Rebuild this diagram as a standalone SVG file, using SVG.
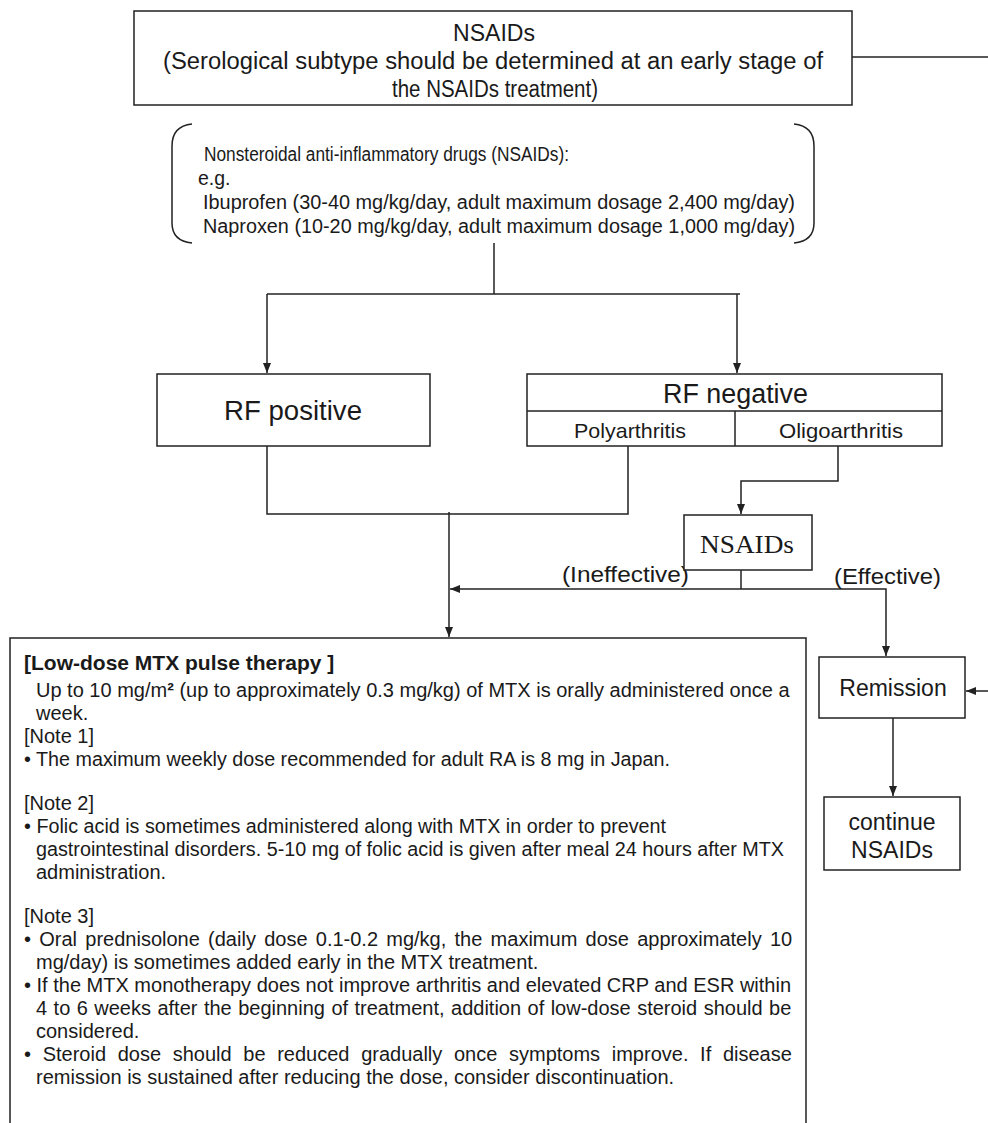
<svg xmlns="http://www.w3.org/2000/svg" width="988" height="1123" viewBox="0 0 988 1123">
<style>
.box{fill:#fff;stroke:#222;stroke-width:1.5}
.ln{fill:none;stroke:#222;stroke-width:1.5}
.t{font-family:"Liberation Sans",Arial,sans-serif;fill:#1a1a1a}
.s{font-family:"Liberation Serif","Times New Roman",serif;fill:#1a1a1a}
.b{font-size:20px}
</style>
<defs>
<marker id="ah" viewBox="0 0 10 10" refX="10" refY="5" markerWidth="10" markerHeight="10" markerUnits="userSpaceOnUse" orient="auto">
<path d="M0,1 L10,5 L0,9 Z" fill="#222"/>
</marker>
</defs>
<rect width="988" height="1123" fill="#fff"/>

<g id="connectors">
<line class="ln" x1="852" y1="57" x2="988" y2="57"/>
<line class="ln" x1="494" y1="243" x2="494" y2="294"/>
<line class="ln" x1="267" y1="294" x2="740" y2="294"/>
<line class="ln" x1="267" y1="294" x2="267" y2="373" marker-end="url(#ah)"/>
<line class="ln" x1="737" y1="294" x2="737" y2="373" marker-end="url(#ah)"/>
<polyline class="ln" points="267,446 267,514 628,514 628,446"/>
<line class="ln" x1="449" y1="512" x2="449" y2="637" marker-end="url(#ah)"/>
<polyline class="ln" points="838,446 838,481 741,481 741,514" marker-end="url(#ah)"/>
<line class="ln" x1="741" y1="570" x2="741" y2="589"/>
<line class="ln" x1="741" y1="589" x2="450" y2="589" marker-end="url(#ah)"/>
<polyline class="ln" points="741,589 886,589 886,656" marker-end="url(#ah)"/>
<line class="ln" x1="988" y1="691" x2="966" y2="691" marker-end="url(#ah)"/>
<line class="ln" x1="893" y1="718" x2="893" y2="796" marker-end="url(#ah)"/>
<text class="t" x="562" y="582" font-size="22" textLength="127" lengthAdjust="spacingAndGlyphs">(Ineffective)</text>
<text class="t" x="834" y="584" font-size="22" textLength="107" lengthAdjust="spacingAndGlyphs">(Effective)</text>
</g>

<g id="n-top">
<rect class="box" x="134" y="11" width="718" height="94"/>
<text class="t" x="494" y="41" font-size="23" text-anchor="middle" textLength="82" lengthAdjust="spacingAndGlyphs">NSAIDs</text>
<text class="t" x="163" y="69" font-size="23" textLength="660" lengthAdjust="spacingAndGlyphs">(Serological subtype should be determined at an early stage of</text>
<text class="t" x="392" y="97" font-size="23" textLength="206" lengthAdjust="spacingAndGlyphs">the NSAIDs treatment)</text>
</g>

<g id="n-examples">
<path class="ln" d="M192,124 Q172,126 172,146 L172,223 Q172,241 192,243"/>
<path class="ln" d="M794,124 Q814,126 814,146 L814,223 Q814,241 794,243"/>
<text class="t" x="204" y="161" font-size="19.5" textLength="365" lengthAdjust="spacingAndGlyphs">Nonsteroidal anti-inflammatory drugs (NSAIDs):</text>
<text class="t" x="198" y="185" font-size="19.5">e.g.</text>
<text class="t" x="203" y="209" font-size="19.5" textLength="592" lengthAdjust="spacingAndGlyphs">Ibuprofen (30-40 mg/kg/day, adult maximum dosage 2,400 mg/day)</text>
<text class="t" x="203" y="233" font-size="19.5" textLength="592" lengthAdjust="spacingAndGlyphs">Naproxen (10-20 mg/kg/day, adult maximum dosage 1,000 mg/day)</text>
</g>

<g id="n-rfpos">
<rect class="box" x="157" y="374" width="273" height="72"/>
<text class="t" x="224" y="420" font-size="27" textLength="138" lengthAdjust="spacingAndGlyphs">RF positive</text>
</g>

<g id="n-rfneg">
<rect class="box" x="527" y="374" width="415" height="72"/>
<line class="ln" x1="527" y1="411" x2="942" y2="411"/>
<line class="ln" x1="735" y1="411" x2="735" y2="446"/>
<text class="t" x="663" y="403" font-size="27" textLength="145" lengthAdjust="spacingAndGlyphs">RF negative</text>
<text class="t" x="574" y="438" font-size="21" textLength="112" lengthAdjust="spacingAndGlyphs">Polyarthritis</text>
<text class="t" x="779" y="438" font-size="21" textLength="124" lengthAdjust="spacingAndGlyphs">Oligoarthritis</text>
</g>

<g id="n-nsaids2">
<rect class="box" x="684" y="515" width="128" height="55"/>
<text class="s" x="747" y="553" font-size="26" text-anchor="middle" textLength="94" lengthAdjust="spacingAndGlyphs">NSAIDs</text>
</g>

<g id="n-mtx">
<rect class="box" x="10" y="638" width="796" height="500"/>
<text class="t" x="24" y="670" font-size="21" font-weight="bold">[Low-dose MTX pulse therapy ]</text>
<text class="t b" x="36" y="697">Up to 10 mg/m<tspan font-weight="bold">²</tspan> (up to approximately 0.3 mg/kg) of MTX is orally administered once a</text>
<text class="t b" x="36" y="720">week.</text>
<text class="t b" x="24" y="743">[Note 1]</text>
<text class="t b" x="24" y="766" textLength="646" lengthAdjust="spacingAndGlyphs">• The maximum weekly dose recommended for adult RA is 8 mg in Japan.</text>
<text class="t b" x="24" y="810">[Note 2]</text>
<text class="t b" x="24" y="833" textLength="642" lengthAdjust="spacingAndGlyphs">• Folic acid is sometimes administered along with MTX in order to prevent</text>
<text class="t b" x="36" y="856" textLength="748" lengthAdjust="spacingAndGlyphs">gastrointestinal disorders. 5-10 mg of folic acid is given after meal 24 hours after MTX</text>
<text class="t b" x="36" y="879">administration.</text>
<text class="t b" x="24" y="923">[Note 3]</text>
<text class="t b" x="24" y="946" word-spacing="2.7">• Oral prednisolone (daily dose 0.1-0.2 mg/kg, the maximum dose approximately 10</text>
<text class="t b" x="36" y="969">mg/day) is sometimes added early in the MTX treatment.</text>
<text class="t b" x="24" y="992">• If the MTX monotherapy does not improve arthritis and elevated CRP and ESR within</text>
<text class="t b" x="36" y="1015" word-spacing="0.9">4 to 6 weeks after the beginning of treatment, addition of low-dose steroid should be</text>
<text class="t b" x="36" y="1038">considered.</text>
<text class="t b" x="24" y="1061" word-spacing="6.1">• Steroid dose should be reduced gradually once symptoms improve. If disease</text>
<text class="t b" x="36" y="1084">remission is sustained after reducing the dose, consider discontinuation.</text>
</g>

<g id="n-remission">
<rect class="box" x="819" y="657" width="146" height="61"/>
<text class="t" x="893" y="696" font-size="23" text-anchor="middle">Remission</text>
</g>

<g id="n-continue">
<rect class="box" x="824" y="797" width="136" height="73"/>
<text class="t" x="892" y="830" font-size="23" text-anchor="middle">continue</text>
<text class="t" x="892" y="858" font-size="23" text-anchor="middle">NSAIDs</text>
</g>
</svg>
